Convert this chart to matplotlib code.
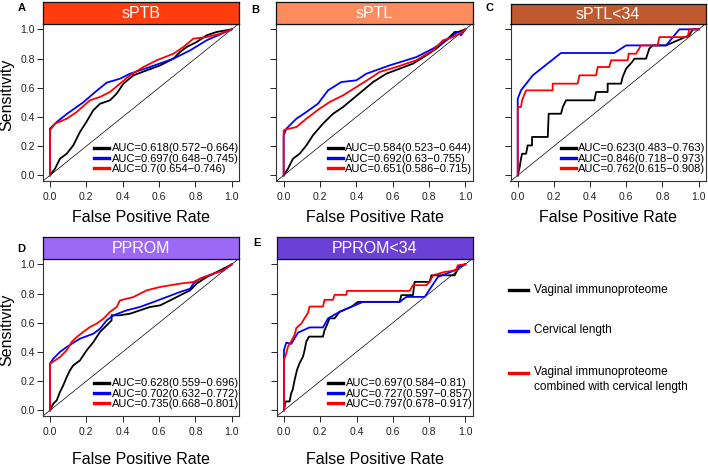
import matplotlib
matplotlib.use("Agg")
import matplotlib.pyplot as plt
from matplotlib.lines import Line2D

plt.rcParams['font.family'] = ['Liberation Sans', 'DejaVu Sans']

W, H = 708, 466

# ---------------- data ----------------
panel_titles = ["sPTB", "sPTL", "sPTL<34", "PPROM", "PPROM<34"]
panel_letters = ["A", "B", "C", "D", "E"]
header_colors = ["#FF3D0F", "#FC8B5E", "#C1592E", "#9B69F5", "#6B40D6"]
series_names = ["Vaginal immunoproteome", "Cervical length",
                "Vaginal immunoproteome\ncombined with cervical length"]
series_colors = ["#000000", "#0000FF", "#FF0000"]

auc_labels_A = ["AUC=0.618(0.572\u22120.664)", "AUC=0.697(0.648\u22120.745)", "AUC=0.7(0.654\u22120.746)"]
auc_labels_B = ["AUC=0.584(0.523\u22120.644)", "AUC=0.692(0.63\u22120.755)", "AUC=0.651(0.586\u22120.715)"]
auc_labels_C = ["AUC=0.623(0.483\u22120.763)", "AUC=0.846(0.718\u22120.973)", "AUC=0.762(0.615\u22120.908)"]
auc_labels_D = ["AUC=0.628(0.559\u22120.696)", "AUC=0.702(0.632\u22120.772)", "AUC=0.735(0.668\u22120.801)"]
auc_labels_E = ["AUC=0.697(0.584\u22120.81)", "AUC=0.727(0.597\u22120.857)", "AUC=0.797(0.678\u22120.917)"]

# Panel A (sPTB)
a_black_fpr = [0, 0.028, 0.055, 0.092, 0.128, 0.165, 0.2, 0.238, 0.275, 0.33, 0.367, 0.404, 0.459, 0.532, 0.606, 0.679, 0.716, 0.752, 0.807, 0.862, 0.917, 1]
a_black_tpr = [0, 0.046, 0.114, 0.148, 0.205, 0.297, 0.365, 0.445, 0.49, 0.514, 0.56, 0.628, 0.685, 0.719, 0.753, 0.799, 0.845, 0.879, 0.913, 0.959, 0.982, 1]
a_blue_fpr = [0, 0, 0.037, 0.092, 0.183, 0.248, 0.312, 0.385, 0.44, 0.55, 0.679, 0.771, 0.862, 1]
a_blue_tpr = [0, 0.32, 0.365, 0.42, 0.5, 0.57, 0.635, 0.662, 0.696, 0.742, 0.799, 0.856, 0.925, 1]
a_red_fpr = [0, 0, 0.028, 0.092, 0.147, 0.22, 0.275, 0.33, 0.385, 0.44, 0.514, 0.587, 0.679, 0.734, 0.789, 0.862, 0.936, 1]
a_red_tpr = [0, 0.308, 0.354, 0.388, 0.434, 0.514, 0.537, 0.571, 0.628, 0.685, 0.742, 0.788, 0.833, 0.879, 0.936, 0.947, 0.97, 1]

# Panel B (sPTL)
b_black_fpr = [0, 0.024, 0.051, 0.088, 0.125, 0.161, 0.216, 0.272, 0.327, 0.382, 0.437, 0.492, 0.565, 0.639, 0.712, 0.785, 0.84, 0.895, 0.941, 0.96, 1]
b_black_tpr = [0, 0.046, 0.114, 0.148, 0.205, 0.274, 0.354, 0.422, 0.468, 0.525, 0.582, 0.639, 0.696, 0.731, 0.765, 0.822, 0.868, 0.925, 0.982, 0.982, 1]
b_blue_fpr = [0, 0, 0.015, 0.07, 0.125, 0.189, 0.244, 0.317, 0.4, 0.455, 0.583, 0.73, 0.822, 0.895, 0.958, 0.976, 1]
b_blue_tpr = [0, 0.274, 0.32, 0.388, 0.434, 0.491, 0.582, 0.639, 0.651, 0.696, 0.753, 0.81, 0.868, 0.925, 0.982, 0.959, 1]
b_red_fpr = [0, 0, 0.015, 0.07, 0.125, 0.198, 0.253, 0.327, 0.4, 0.473, 0.528, 0.62, 0.73, 0.822, 0.877, 0.932, 0.969, 1]
b_red_tpr = [0, 0.308, 0.315, 0.331, 0.388, 0.457, 0.502, 0.548, 0.605, 0.662, 0.708, 0.742, 0.788, 0.856, 0.925, 0.947, 0.97, 1]

# Panel C (sPTL<34)
c_black_fpr = [0, 0.009, 0.018, 0.024, 0.046, 0.055, 0.079, 0.079, 0.166, 0.171, 0.239, 0.249, 0.267, 0.424, 0.433, 0.497, 0.497, 0.571, 0.58, 0.599, 0.632, 0.645, 0.709, 0.727, 0.746, 0.82, 0.948, 0.967, 1]
c_black_tpr = [0, 0.046, 0.114, 0.148, 0.148, 0.205, 0.205, 0.263, 0.263, 0.422, 0.422, 0.468, 0.514, 0.514, 0.571, 0.571, 0.628, 0.628, 0.674, 0.731, 0.776, 0.799, 0.799, 0.868, 0.89, 0.89, 0.959, 1.0, 1]
c_blue_fpr = [0, 0, 0.018, 0.083, 0.239, 0.534, 0.599, 0.82, 0.893, 1]
c_blue_tpr = [0, 0.525, 0.582, 0.685, 0.838, 0.838, 0.89, 0.89, 1.0, 1]
c_red_fpr = [0, 0, 0.018, 0.024, 0.046, 0.193, 0.193, 0.331, 0.341, 0.433, 0.442, 0.506, 0.516, 0.608, 0.613, 0.654, 0.681, 0.773, 0.783, 0.939, 0.948, 1]
c_red_tpr = [0, 0.468, 0.468, 0.514, 0.582, 0.582, 0.628, 0.628, 0.685, 0.685, 0.742, 0.742, 0.788, 0.788, 0.833, 0.833, 0.89, 0.89, 0.947, 0.947, 1.0, 1]

# Panel D (PPROM)
d_black_fpr = [0, 0.018, 0.037, 0.055, 0.073, 0.092, 0.11, 0.128, 0.165, 0.202, 0.239, 0.275, 0.312, 0.339, 0.339, 0.385, 0.44, 0.495, 0.55, 0.606, 0.661, 0.716, 0.771, 0.807, 0.862, 0.917, 0.954, 1]
d_black_tpr = [0, 0.046, 0.068, 0.126, 0.171, 0.228, 0.274, 0.308, 0.342, 0.411, 0.468, 0.537, 0.582, 0.616, 0.651, 0.651, 0.662, 0.685, 0.708, 0.719, 0.753, 0.788, 0.822, 0.868, 0.913, 0.947, 0.97, 1]
d_blue_fpr = [0, 0, 0.018, 0.055, 0.092, 0.165, 0.239, 0.275, 0.312, 0.349, 0.422, 0.495, 0.569, 0.642, 0.716, 0.771, 0.789, 0.826, 0.899, 0.954, 1]
d_blue_tpr = [0, 0.32, 0.354, 0.4, 0.434, 0.491, 0.525, 0.559, 0.616, 0.651, 0.685, 0.708, 0.742, 0.776, 0.811, 0.833, 0.868, 0.902, 0.936, 0.959, 1]
d_red_fpr = [0, 0, 0.028, 0.055, 0.092, 0.119, 0.147, 0.183, 0.22, 0.257, 0.294, 0.33, 0.367, 0.385, 0.459, 0.532, 0.606, 0.716, 0.789, 0.826, 0.899, 0.954, 1]
d_red_tpr = [0, 0.32, 0.342, 0.365, 0.411, 0.468, 0.502, 0.537, 0.571, 0.594, 0.628, 0.674, 0.708, 0.753, 0.776, 0.822, 0.845, 0.868, 0.879, 0.902, 0.936, 0.959, 1]

# Panel E (PPROM<34)
e_black_fpr = [0, 0.009, 0.031, 0.04, 0.048, 0.059, 0.072, 0.086, 0.105, 0.114, 0.123, 0.138, 0.215, 0.224, 0.233, 0.251, 0.279, 0.307, 0.371, 0.408, 0.638, 0.647, 0.711, 0.72, 0.803, 0.813, 0.941, 0.969, 1]
e_black_tpr = [0, 0.061, 0.061, 0.118, 0.141, 0.209, 0.277, 0.323, 0.368, 0.414, 0.47, 0.505, 0.505, 0.55, 0.573, 0.63, 0.63, 0.675, 0.709, 0.743, 0.743, 0.789, 0.789, 0.88, 0.88, 0.925, 0.925, 0.993, 1]
e_blue_fpr = [0, 0, 0.013, 0.04, 0.077, 0.141, 0.215, 0.243, 0.307, 0.371, 0.436, 0.638, 0.675, 0.776, 0.812, 0.849, 0.895, 0.941, 0.969, 1]
e_blue_tpr = [0, 0.414, 0.464, 0.455, 0.532, 0.568, 0.568, 0.63, 0.675, 0.709, 0.743, 0.743, 0.777, 0.777, 0.845, 0.914, 0.936, 0.959, 0.982, 1]
e_red_fpr = [0, 0, 0.013, 0.022, 0.04, 0.059, 0.068, 0.096, 0.114, 0.132, 0.141, 0.215, 0.224, 0.27, 0.279, 0.344, 0.347, 0.693, 0.711, 0.785, 0.803, 0.822, 0.886, 0.949, 0.958, 1]
e_red_tpr = [0, 0.345, 0.391, 0.436, 0.473, 0.518, 0.564, 0.595, 0.632, 0.666, 0.711, 0.711, 0.757, 0.757, 0.791, 0.791, 0.818, 0.818, 0.857, 0.857, 0.88, 0.925, 0.948, 0.959, 0.993, 1]

ticks = [0.0, 0.2, 0.4, 0.6, 0.8, 1.0]
tick_labels = ["0.0", "0.2", "0.4", "0.6", "0.8", "1.0"]

panel_curves = [
    [(a_black_fpr, a_black_tpr), (a_blue_fpr, a_blue_tpr), (a_red_fpr, a_red_tpr)],
    [(b_black_fpr, b_black_tpr), (b_blue_fpr, b_blue_tpr), (b_red_fpr, b_red_tpr)],
    [(c_black_fpr, c_black_tpr), (c_blue_fpr, c_blue_tpr), (c_red_fpr, c_red_tpr)],
    [(d_black_fpr, d_black_tpr), (d_blue_fpr, d_blue_tpr), (d_red_fpr, d_red_tpr)],
    [(e_black_fpr, e_black_tpr), (e_blue_fpr, e_blue_tpr), (e_red_fpr, e_red_tpr)],
]
panel_aucs = [auc_labels_A, auc_labels_B, auc_labels_C, auc_labels_D, auc_labels_E]

# ---------------- layout (pixels) ----------------
ax_px = [(42.7, 239.0, 23.5, 181.2),
         (276.4, 472.6, 23.5, 181.2),
         (510.5, 705.9, 23.5, 181.2),
         (42.7, 239.0, 258.5, 416.2),
         (276.7, 472.6, 258.5, 416.2)]
header_top = [1.5, 1.5, 4.5, 237.0, 237.0]
letter_pos = [(22, 8), (255, 10), (490, 8), (21, 249), (257, 243)]
xlabel_y = [217, 217, 217, 459, 459]


def rect(l, r, t, b):
    return [l / W, 1 - b / H, (r - l) / W, (b - t) / H]


fig = plt.figure(figsize=(W / 100, H / 100), dpi=100)

for i in range(5):
    l, r, t, b = ax_px[i]
    ax = fig.add_axes(rect(l, r, t, b))
    ax.set_xlim(-0.04, 1.04)
    ax.set_ylim(-0.04, 1.04)
    ax.axline((0, 0), (1, 1), color="black", lw=0.5, zorder=1)
    handles = []
    for (fpr, tpr), col, lab in zip(panel_curves[i], series_colors, panel_aucs[i]):
        ax.plot(fpr, tpr, color=col, lw=1.3, zorder=2)
        handles.append(Line2D([], [], color=col, lw=2.4, label=lab))
    ax.legend(handles=handles, loc="lower right", frameon=False, fontsize=8,
              handlelength=1.35, handletextpad=0.25, labelspacing=0.02,
              borderaxespad=0.0, borderpad=0.25,
              bbox_to_anchor=(1.014, 0.029))
    ax.set_xticks(ticks)
    ax.set_xticklabels(tick_labels)
    ax.set_yticks(ticks)
    if i in (0, 3):
        ax.set_yticklabels(tick_labels)
    else:
        ax.set_yticklabels([])
    ax.tick_params(direction="out", length=4.3, width=0.7, labelsize=7.5,
                   colors="#222222", labelcolor="#222222")
    ax.tick_params(axis="x", pad=3.5)
    ax.tick_params(axis="y", pad=1.5)
    for s in ax.spines.values():
        s.set_linewidth(0.8)
        s.set_color("#333333")
    ax.set_xlabel("False Positive Rate", fontsize=11.5)
    ax.xaxis.set_label_coords(0.5, (b - xlabel_y[i]) / (b - t))
    ax.xaxis.label.set_va("center")
    if i in (0, 3):
        ax.set_ylabel("Sensitivity", fontsize=11.5)
        ax.yaxis.set_label_coords((7 - l) / (r - l), 0.5 + 8 / (b - t))
        ax.yaxis.label.set_va("center")

    # header strip
    hax = fig.add_axes(rect(l, r, header_top[i], t))
    hax.set_facecolor(header_colors[i])
    hax.set_xticks([])
    hax.set_yticks([])
    for s in hax.spines.values():
        s.set_linewidth(0.9)
        s.set_color("#111111")
    hax.text(0.5, 0.47, panel_titles[i], color="white", fontsize=11.5,
             ha="center", va="center", transform=hax.transAxes)

    lx, ly = letter_pos[i]
    fig.text(lx / W, 1 - ly / H, panel_letters[i], fontsize=8, fontweight="bold",
             ha="center", va="center")

# shared legend (bottom-right)
leg_y = [290, 331, 373]
for y, col, name in zip(leg_y, series_colors, series_names):
    fig.add_artist(Line2D([509 / W, 528 / W], [1 - y / H, 1 - y / H],
                          color=col, lw=2.4, transform=fig.transFigure))
    fig.text(534 / W, 1 - (y - 6.5) / H, name, fontsize=8.5, ha="left", va="top",
             linespacing=1.25)

fig.savefig("out.png", dpi=100)
